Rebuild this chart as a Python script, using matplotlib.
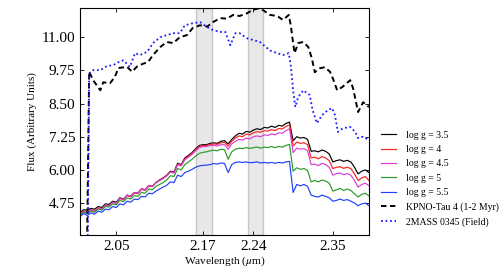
import matplotlib
matplotlib.use("Agg")
import matplotlib.pyplot as plt

# ---------------- data ----------------
model_wl = [2.000, 2.005, 2.010, 2.015, 2.020, 2.025, 2.030, 2.035, 2.040, 2.045,
            2.050, 2.055, 2.060, 2.065, 2.070, 2.075, 2.080, 2.085, 2.090, 2.095,
            2.100, 2.105, 2.110, 2.115, 2.120, 2.125, 2.130, 2.135, 2.140, 2.145,
            2.150, 2.155, 2.160, 2.165, 2.170, 2.175, 2.180, 2.185, 2.190, 2.195,
            2.200, 2.205, 2.210, 2.215, 2.220, 2.225, 2.230, 2.235, 2.240, 2.245,
            2.250, 2.255, 2.260, 2.265, 2.270, 2.275, 2.280, 2.285, 2.290, 2.295,
            2.300, 2.305, 2.310, 2.315, 2.320, 2.325, 2.330, 2.335, 2.340, 2.345,
            2.350, 2.355, 2.360, 2.365, 2.370, 2.375, 2.380, 2.385, 2.390, 2.395,
            2.400]

logg_35 = [4.40, 4.50, 4.48, 4.55, 4.52, 4.62, 4.58, 4.72, 4.70, 4.82,
           4.78, 4.95, 4.90, 5.05, 5.00, 5.15, 5.12, 5.28, 5.25, 5.40,
           5.38, 5.52, 5.62, 5.70, 5.80, 5.95, 5.92, 6.25, 6.20, 6.45,
           6.55, 6.65, 6.80, 6.92, 6.95, 6.95, 7.00, 7.02, 7.00, 7.08,
           7.10, 6.98, 7.15, 7.28, 7.38, 7.35, 7.45, 7.42, 7.50, 7.55,
           7.52, 7.60, 7.58, 7.65, 7.60, 7.68, 7.65, 7.75, 7.80, 7.10,
           7.25, 7.20, 7.22, 7.15, 6.70, 6.72, 6.68, 6.75, 6.70, 6.60,
           6.30, 6.35, 6.38, 6.32, 6.36, 6.30, 6.10, 5.85, 5.95, 6.00,
           5.90]

logg_4 = [4.35, 4.45, 4.40, 4.50, 4.45, 4.58, 4.53, 4.68, 4.65, 4.78,
          4.74, 4.92, 4.87, 5.03, 4.98, 5.13, 5.10, 5.27, 5.23, 5.40,
          5.37, 5.52, 5.60, 5.68, 5.78, 5.93, 5.90, 6.22, 6.18, 6.42,
          6.52, 6.62, 6.76, 6.88, 6.92, 6.92, 6.96, 6.98, 6.96, 7.02,
          7.04, 6.90, 7.08, 7.20, 7.28, 7.25, 7.35, 7.32, 7.40, 7.44,
          7.42, 7.48, 7.46, 7.52, 7.48, 7.56, 7.54, 7.64, 7.70, 6.90,
          7.05, 7.00, 7.02, 6.95, 6.45, 6.48, 6.42, 6.50, 6.45, 6.35,
          6.05, 6.10, 6.12, 6.06, 6.10, 6.05, 5.85, 5.60, 5.70, 5.75,
          5.60]

logg_45 = [4.32, 4.42, 4.38, 4.48, 4.44, 4.57, 4.52, 4.67, 4.64, 4.78,
           4.74, 4.93, 4.88, 5.05, 5.00, 5.15, 5.12, 5.30, 5.25, 5.42,
           5.38, 5.53, 5.60, 5.68, 5.78, 5.92, 5.88, 6.20, 6.15, 6.38,
           6.48, 6.58, 6.72, 6.84, 6.88, 6.88, 6.92, 6.92, 6.90, 6.95,
           6.95, 6.78, 6.98, 7.08, 7.15, 7.12, 7.20, 7.17, 7.25, 7.28,
           7.25, 7.32, 7.30, 7.36, 7.32, 7.40, 7.38, 7.48, 7.55, 6.65,
           6.82, 6.78, 6.80, 6.72, 6.20, 6.22, 6.16, 6.25, 6.20, 6.10,
           5.80, 5.86, 5.88, 5.82, 5.86, 5.80, 5.60, 5.35, 5.45, 5.50,
           5.40]

logg_5 = [4.30, 4.40, 4.35, 4.45, 4.40, 4.53, 4.48, 4.62, 4.60, 4.72,
          4.68, 4.85, 4.80, 4.95, 4.90, 5.03, 5.00, 5.15, 5.12, 5.28,
          5.25, 5.38, 5.45, 5.52, 5.62, 5.78, 5.75, 6.05, 6.00, 6.20,
          6.30, 6.40, 6.52, 6.62, 6.66, 6.68, 6.72, 6.74, 6.72, 6.78,
          6.76, 6.40, 6.68, 6.78, 6.82, 6.80, 6.84, 6.81, 6.84, 6.86,
          6.82, 6.86, 6.84, 6.88, 6.84, 6.88, 6.86, 6.92, 6.96, 5.95,
          6.08, 6.02, 6.05, 5.98, 5.55, 5.60, 5.55, 5.62, 5.58, 5.50,
          5.20, 5.25, 5.30, 5.22, 5.28, 5.22, 5.10, 4.98, 5.08, 5.12,
          5.02]

logg_55 = [4.25, 4.35, 4.28, 4.38, 4.33, 4.45, 4.40, 4.52, 4.50, 4.62,
           4.58, 4.72, 4.68, 4.82, 4.78, 4.90, 4.88, 5.00, 4.98, 5.12,
           5.10, 5.20, 5.28, 5.35, 5.42, 5.55, 5.52, 5.80, 5.75, 5.90,
           5.95, 6.02, 6.10, 6.15, 6.17, 6.18, 6.20, 6.24, 6.22, 6.26,
           6.24, 5.90, 6.20, 6.28, 6.30, 6.28, 6.30, 6.27, 6.28, 6.30,
           6.26, 6.28, 6.26, 6.28, 6.25, 6.28, 6.26, 6.30, 6.32, 5.15,
           5.45, 5.40, 5.45, 5.38, 5.05, 5.00, 4.98, 5.05, 5.00, 4.95,
           4.82, 4.85, 4.90, 4.85, 4.88, 4.82, 4.75, 4.65, 4.72, 4.75,
           4.65]

kpno_wl = [2.0095, 2.0125, 2.018, 2.028, 2.032, 2.0415, 2.048, 2.053, 2.065, 2.072,
           2.079, 2.087, 2.094, 2.101, 2.111, 2.120, 2.129, 2.138, 2.148, 2.156,
           2.166, 2.176, 2.184, 2.194, 2.203, 2.212, 2.221, 2.231, 2.239, 2.249,
           2.263, 2.273, 2.281, 2.289, 2.292, 2.295, 2.297, 2.302, 2.309, 2.316,
           2.321, 2.325, 2.332, 2.339, 2.346, 2.350, 2.356, 2.363, 2.374, 2.378,
           2.385, 2.392, 2.400]
kpno_flux = [3.0, 9.70, 9.38, 9.00, 9.30, 9.27, 9.50, 9.84, 9.88, 9.70,
             9.90, 10.00, 10.06, 10.33, 10.63, 10.82, 10.78, 11.00, 11.08, 11.35,
             11.45, 11.40, 11.57, 11.72, 11.70, 11.84, 11.80, 11.90, 12.03, 12.10,
             11.84, 11.80, 11.65, 11.84, 11.40, 10.78, 10.40, 10.78, 10.82, 10.63,
             10.20, 9.68, 9.83, 9.87, 9.70, 9.45, 9.00, 9.12, 9.38, 9.08,
             8.18, 8.55, 8.37]

field_wl = [2.0105, 2.0125, 2.018, 2.028, 2.037, 2.046, 2.053, 2.060, 2.069, 2.076,
            2.083, 2.093, 2.101, 2.111, 2.120, 2.129, 2.138, 2.145, 2.155, 2.166,
            2.176, 2.184, 2.194, 2.201, 2.208, 2.215, 2.221, 2.231, 2.239, 2.249,
            2.263, 2.273, 2.281, 2.289, 2.292, 2.295, 2.298, 2.302, 2.309, 2.318,
            2.322, 2.328, 2.335, 2.343, 2.349, 2.353, 2.357, 2.364, 2.374, 2.381,
            2.385, 2.392, 2.400]
field_flux = [3.0, 9.64, 9.76, 9.76, 9.91, 9.95, 10.06, 10.13, 9.88, 10.40,
              10.33, 10.45, 10.78, 11.00, 11.08, 11.15, 11.15, 11.45, 11.52, 11.57,
              11.38, 11.27, 11.20, 11.20, 10.70, 11.15, 11.15, 10.96, 10.90, 10.82,
              10.50, 10.40, 10.33, 10.40, 9.88, 9.00, 8.37, 8.74, 9.00, 8.82,
              8.25, 7.76, 8.06, 8.25, 8.33, 8.06, 7.43, 7.57, 7.62, 7.43,
              7.20, 7.25, 7.12]

model_labels = ["log g = 3.5", "log g = 4", "log g = 4.5", "log g = 5", "log g = 5.5"]
model_colors = ["black", "#ff2020", "#d63fd6", "#2a9a2a", "#2040ff"]
spans = [(2.161, 2.182), (2.232, 2.253)]
xticks = [2.05, 2.17, 2.24, 2.35]
yticks = [4.75, 6.00, 7.25, 8.50, 9.75, 11.00]

# ---------------- plot ----------------
plt.rcParams["font.family"] = ["Liberation Serif", "DejaVu Serif"]
plt.rcParams["mathtext.fontset"] = "stix"

fig = plt.figure(figsize=(5.04, 2.77), dpi=100)
ax = fig.add_axes([0.159, 0.152, 0.573, 0.819])

for lo, hi in spans:
    ax.axvspan(lo, hi, facecolor="#e8e8e8", edgecolor="#c8c8c8", lw=1.0, zorder=0)

for vals, lab, col in zip([logg_35, logg_4, logg_45, logg_5, logg_55], model_labels, model_colors):
    ax.plot(model_wl, vals, color=col, lw=0.85, label=lab)

ax.plot(kpno_wl, kpno_flux, color="black", lw=1.4, ls=(0, (2.8, 1.8)), label="KPNO-Tau 4 (1-2 Myr)")
ax.plot(field_wl, field_flux, color="#1a1aff", lw=1.3, ls=(0, (1, 1.5)), label="2MASS 0345 (Field)")

ax.set_xlim(2.0, 2.40)
ax.set_ylim(3.55, 12.1)
ax.set_xticks(xticks)
ax.set_xticklabels([f"{t:.2f}" for t in xticks])
ax.set_yticks(yticks)
ax.set_yticklabels([f"{t:.2f}" for t in yticks])
ax.tick_params(direction="in", top=True, right=True, labelsize=11, length=3, width=0.6)
for s in ax.spines.values():
    s.set_linewidth(0.8)

ax.set_xlabel(r"Wavelength ($\mu$m)", fontsize=8.2, labelpad=1)
ax.set_ylabel("Flux (Arbitrary Units)", fontsize=8, labelpad=3)

ax.legend(loc="center left", bbox_to_anchor=(1.01, 0.247), frameon=False, fontsize=7,
          handlelength=1.6, handletextpad=1.0, labelspacing=0.55)

fig.savefig("out.png", dpi=100)
